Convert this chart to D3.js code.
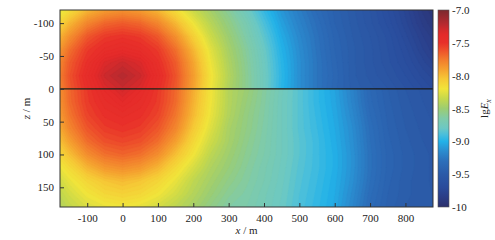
<!DOCTYPE html>
<html><head><meta charset="utf-8">
<script src="https://cdn.jsdelivr.net/npm/d3@7"></script>
<style>
body{margin:0;background:#fff}
svg{display:block}
text{font-family:"Liberation Serif","Times New Roman",serif;fill:#222}
</style>
</head><body>
<svg id="chart" width="495" height="240"></svg>
<script>
// ---------- data ----------
const xCols = [-200,-150,-100,-50,0,50,100,150,200,250,300,350,400,450,500,550,600,650,700,750,800,850,900];
const zUpper = [-120,-100,-80,-60,-40,-20,0];
const zLower = [0,20,40,60,80,100,120,140,160,180];
// lg Ex above the interface (z <= 0), one row per zUpper value
const upperValues = [
[-8.33,-8.16,-7.99,-7.89,-7.85,-7.89,-7.99,-8.16,-8.33,-8.47,-8.61,-8.77,-8.95,-9.11,-9.23,-9.34,-9.43,-9.50,-9.57,-9.66,-9.76,-9.88,-9.96],
[-8.21,-7.99,-7.80,-7.69,-7.65,-7.69,-7.80,-7.99,-8.21,-8.40,-8.55,-8.70,-8.89,-9.07,-9.20,-9.31,-9.42,-9.49,-9.56,-9.64,-9.74,-9.85,-9.93],
[-8.09,-7.84,-7.64,-7.54,-7.51,-7.54,-7.64,-7.84,-8.09,-8.33,-8.50,-8.66,-8.84,-9.03,-9.17,-9.29,-9.40,-9.48,-9.54,-9.61,-9.71,-9.81,-9.89],
[-7.99,-7.72,-7.54,-7.46,-7.42,-7.46,-7.54,-7.72,-7.99,-8.26,-8.46,-8.62,-8.80,-9.00,-9.15,-9.28,-9.39,-9.47,-9.53,-9.60,-9.68,-9.78,-9.86],
[-7.92,-7.65,-7.49,-7.34,-7.28,-7.34,-7.49,-7.65,-7.92,-8.22,-8.43,-8.60,-8.78,-8.98,-9.14,-9.27,-9.38,-9.47,-9.53,-9.59,-9.66,-9.74,-9.82],
[-7.89,-7.62,-7.45,-7.28,-7.21,-7.28,-7.45,-7.62,-7.89,-8.19,-8.41,-8.59,-8.77,-8.97,-9.14,-9.27,-9.37,-9.47,-9.52,-9.57,-9.63,-9.70,-9.76],
[-7.91,-7.64,-7.48,-7.34,-7.27,-7.34,-7.48,-7.64,-7.91,-8.21,-8.43,-8.59,-8.77,-8.98,-9.14,-9.27,-9.38,-9.46,-9.50,-9.54,-9.60,-9.66,-9.72]
];
// lg Ex below the interface (z >= 0), one row per zLower value
const lowerValues = [
[-7.95,-7.69,-7.53,-7.40,-7.30,-7.40,-7.53,-7.69,-7.95,-8.20,-8.41,-8.50,-8.62,-8.75,-8.86,-8.96,-9.06,-9.20,-9.36,-9.45,-9.51,-9.55,-9.58],
[-7.97,-7.70,-7.54,-7.45,-7.38,-7.45,-7.54,-7.70,-7.97,-8.21,-8.41,-8.52,-8.63,-8.76,-8.86,-8.96,-9.05,-9.19,-9.35,-9.44,-9.50,-9.54,-9.57],
[-8.00,-7.74,-7.57,-7.49,-7.46,-7.49,-7.57,-7.74,-8.00,-8.23,-8.42,-8.54,-8.64,-8.76,-8.86,-8.95,-9.04,-9.17,-9.33,-9.43,-9.49,-9.53,-9.56],
[-8.06,-7.80,-7.63,-7.54,-7.51,-7.54,-7.63,-7.80,-8.06,-8.27,-8.45,-8.55,-8.65,-8.76,-8.86,-8.94,-9.03,-9.15,-9.31,-9.42,-9.48,-9.52,-9.55],
[-8.13,-7.90,-7.71,-7.61,-7.58,-7.61,-7.71,-7.90,-8.13,-8.32,-8.46,-8.57,-8.66,-8.76,-8.85,-8.93,-9.02,-9.14,-9.30,-9.41,-9.47,-9.51,-9.54],
[-8.20,-8.02,-7.83,-7.72,-7.68,-7.72,-7.83,-8.02,-8.20,-8.38,-8.49,-8.59,-8.67,-8.76,-8.85,-8.93,-9.01,-9.13,-9.29,-9.40,-9.46,-9.50,-9.53],
[-8.29,-8.14,-7.98,-7.87,-7.83,-7.87,-7.98,-8.14,-8.29,-8.43,-8.52,-8.61,-8.69,-8.77,-8.86,-8.93,-9.01,-9.13,-9.29,-9.40,-9.46,-9.50,-9.53],
[-8.37,-8.23,-8.12,-8.04,-8.00,-8.04,-8.12,-8.23,-8.37,-8.47,-8.56,-8.63,-8.70,-8.78,-8.87,-8.94,-9.02,-9.14,-9.30,-9.41,-9.47,-9.50,-9.53],
[-8.42,-8.30,-8.20,-8.13,-8.10,-8.13,-8.20,-8.30,-8.41,-8.51,-8.60,-8.65,-8.72,-8.79,-8.88,-8.95,-9.03,-9.16,-9.32,-9.42,-9.47,-9.50,-9.52],
[-8.47,-8.36,-8.28,-8.23,-8.21,-8.24,-8.30,-8.38,-8.46,-8.56,-8.64,-8.67,-8.73,-8.80,-8.89,-8.96,-9.04,-9.18,-9.34,-9.43,-9.48,-9.50,-9.52]
];
const xTicks = [-100,0,100,200,300,400,500,600,700,800];
const zTicks = [-100,-50,0,50,100,150];
const cbTicks = [-7.0,-7.5,-8.0,-8.5,-9.0,-9.5,-10];
const cbTickLabels = ["-7.0","-7.5","-8.0","-8.5","-9.0","-9.5","-10"];
const colorStopValues = [-10.0,-9.85,-9.7,-9.5,-9.3,-9.15,-9.0,-8.9,-8.8,-8.65,-8.5,-8.35,-8.2,-8.05,-7.9,-7.75,-7.62,-7.5,-7.38,-7.3,-7.22,-7.0];
const colorStopColors = ["#2b2f6b","#2b3d86","#2a4b9b","#2b5aa8","#2c6fba","#2b8ccf","#22b2e8","#48bedc","#6cc8c4","#80cba8","#9ccd72","#c5d84c","#f1e43a","#f6c836","#f5a030","#f27a2d","#ee522b","#e8302a","#e42a2a","#d22a2c","#b82a2f","#7b2a2e"];

// ---------- layout ----------
const L = 60, R = 433, T = 10, B = 207;
const svg = d3.select("#chart");
const x = d3.scaleLinear().domain([-177, 878]).range([L, R]);
const z = d3.scaleLinear().domain([-120, 180]).range([T, B]);
const color = d3.scaleLinear().domain(colorStopValues).range(colorStopColors).clamp(true);

const defs = svg.append("defs");
defs.append("clipPath").attr("id","clipU").append("rect")
  .attr("x", L).attr("y", T).attr("width", R-L).attr("height", z(0)-T);
defs.append("clipPath").attr("id","clipL").append("rect")
  .attr("x", L).attr("y", z(0)).attr("width", R-L).attr("height", B-z(0));

const step = 0.03;
const thresholds = d3.range(-10.2, -7.0, step);

function drawField(values2d, zs, clipId) {
  const nx = xCols.length, ny = zs.length;
  const flat = values2d.flat();
  const dxs = xCols[1]-xCols[0], dzs = zs[1]-zs[0];
  const proj = d3.geoTransform({
    point(px, py) {
      this.stream.point(x(xCols[0] + (px-0.5)*dxs), z(zs[0] + (py-0.5)*dzs));
    }
  });
  const path = d3.geoPath(proj);
  const conts = d3.contours().size([nx, ny]).thresholds(thresholds)(flat);
  const g = svg.append("g").attr("clip-path", `url(#${clipId})`);
  g.selectAll("path").data(conts).join("path")
    .attr("d", path)
    .attr("fill", d => color(d.value + step/2))
    .attr("stroke", d => color(d.value + step/2))
    .attr("stroke-width", 0.3);
}
drawField(upperValues, zUpper, "clipU");
drawField(lowerValues, zLower, "clipL");

// interface line
svg.append("line").attr("x1", L).attr("x2", R).attr("y1", z(0)).attr("y2", z(0))
  .attr("stroke", "#1a1a1a").attr("stroke-width", 1.3);

// frame
svg.append("rect").attr("x", L).attr("y", T).attr("width", R-L).attr("height", B-T)
  .attr("fill", "none").attr("stroke", "#333").attr("stroke-width", 1);

// axes
const ax = svg.append("g").attr("transform", `translate(0,${B})`)
  .call(d3.axisBottom(x).tickValues(xTicks).tickSize(-4).tickPadding(7).tickFormat(d => d));
const ay = svg.append("g").attr("transform", `translate(${L},0)`)
  .call(d3.axisLeft(z).tickValues(zTicks).tickSize(-4).tickPadding(6).tickFormat(d => d));
[ax, ay].forEach(a => {
  a.select(".domain").remove();
  a.selectAll(".tick line").attr("stroke", "#333");
  a.selectAll(".tick text").attr("font-size", 11).attr("font-family", "Liberation Serif, serif").attr("fill", "#222");
});

// axis titles
const xt = svg.append("text").attr("x", (L+R)/2).attr("y", 234).attr("text-anchor", "middle").attr("font-size", 11);
xt.append("tspan").attr("font-style", "italic").text("x");
xt.append("tspan").text(" / m");
const yt = svg.append("text").attr("transform", `translate(30,${(T+B)/2}) rotate(-90)`).attr("text-anchor", "middle").attr("font-size", 11);
yt.append("tspan").attr("font-style", "italic").text("z");
yt.append("tspan").text(" / m");

// colorbar
const cbX = 438, cbW = 11;
const cb = d3.scaleLinear().domain([-7, -10]).range([T, B]);
const grad = defs.append("linearGradient").attr("id", "cbg").attr("x1", 0).attr("x2", 0).attr("y1", 0).attr("y2", 1);
const stopIdx = d3.range(colorStopValues.length).sort((a, b) => cb(colorStopValues[a]) - cb(colorStopValues[b]));
stopIdx.forEach(i => {
  grad.append("stop").attr("offset", (cb(colorStopValues[i])-T)/(B-T)).attr("stop-color", colorStopColors[i]);
});
svg.append("rect").attr("x", cbX).attr("y", T).attr("width", cbW).attr("height", B-T)
  .attr("fill", "url(#cbg)").attr("stroke", "#555").attr("stroke-width", 0.6);
svg.selectAll(".cbt").data(cbTicks).join("text").attr("class", "cbt")
  .attr("x", cbX + cbW + 3).attr("y", d => cb(d) + 4).attr("font-size", 11)
  .text((d, i) => cbTickLabels[i]);
const ct = svg.append("text").attr("transform", `translate(488,${(T+B)/2}) rotate(-90)`).attr("text-anchor", "middle").attr("font-size", 11);
ct.append("tspan").text("lg");
ct.append("tspan").attr("font-style", "italic").text("E");
ct.append("tspan").attr("font-style", "italic").attr("font-size", 8).attr("dy", 3).text("x");
</script>
</body></html>
